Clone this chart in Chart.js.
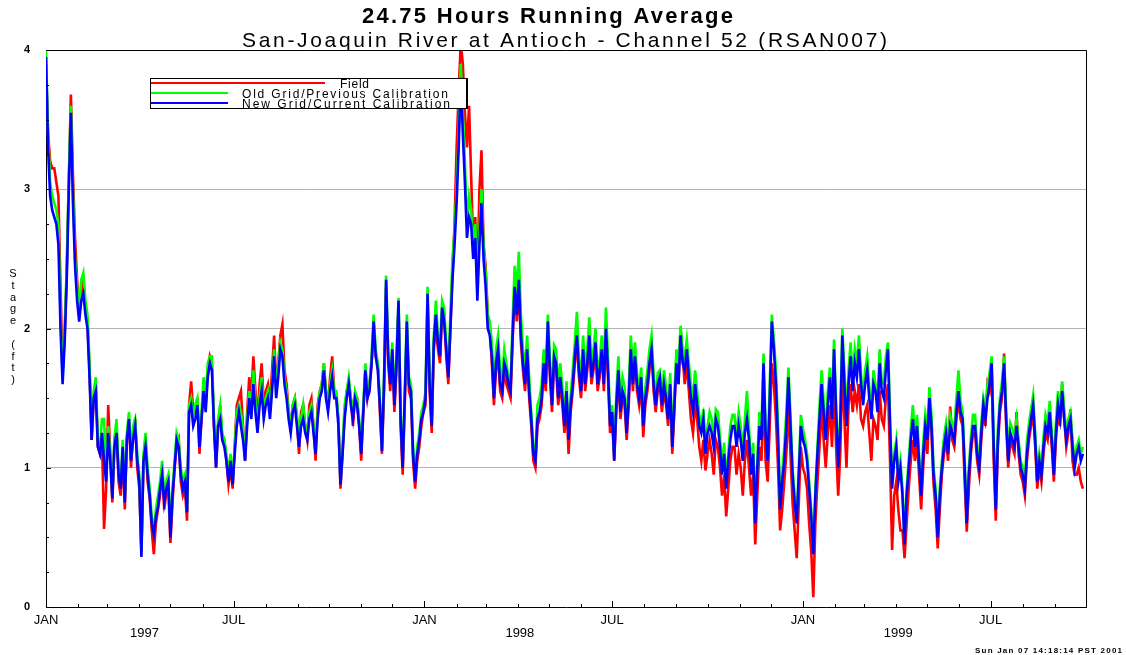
<!DOCTYPE html>
<html>
<head>
<meta charset="utf-8">
<title>24.75 Hours Running Average</title>
<script src="https://cdn.jsdelivr.net/npm/chart.js@4.4.1/dist/chart.umd.min.js"></script>
<style>
  body { margin: 0; background: #fff; }
  #grafico { display: block; }
</style>
</head>
<body>
<canvas id="grafico" width="1127" height="655"></canvas>
<script>
// valores, en dias desde el 1 de enero de 1997 (dia 0)
// ...Stage: un dato cada 4 dias (dia 0, 4, 8...), ...Mid: el dato intermedio (dia 2, 6, 10...)
const firstDay = 0
const dayStep = 4
const lastDay = 1003 // fin del eje, aprox. 1 oct 1999

const newGridStage = [
  3.95, 2.95, 2.8, 2.6, 1.6, 2.35, 3.55, 2.45, 2.05, 2.25,
  2.0, 1.2, 1.55, 1.1, 1.05, 1.25, 0.78, 1.25, 0.85, 0.75,
  1.35, 1.2, 1.05, 0.36, 1.15, 0.8, 0.52, 0.72, 0.95, 0.85,
  0.5, 1.0, 1.15, 0.85, 0.68, 1.45, 1.35, 1.15, 1.55, 1.65,
  1.7, 1.0, 1.35, 1.15, 0.9, 0.88, 1.3, 1.3, 1.05, 1.5,
  1.6, 1.25, 1.55, 1.45, 1.35, 1.8, 1.65, 1.8, 1.5, 1.25,
  1.45, 1.15, 1.35, 1.2, 1.4, 1.1, 1.5, 1.7, 1.4, 1.65,
  1.5, 0.88, 1.35, 1.6, 1.35, 1.45, 1.1, 1.7, 1.55, 2.05,
  1.7, 1.12, 2.35, 1.6, 1.45, 2.2, 1.0, 2.05, 1.55, 0.9,
  1.2, 1.4, 2.25, 1.3, 2.1, 1.8, 2.05, 1.65, 2.35, 2.9,
  3.8, 3.05, 2.8, 2.5, 2.2, 2.9, 2.3, 1.95, 1.5, 1.85,
  1.55, 1.7, 1.55, 2.3, 2.35, 1.75, 1.85, 1.35, 1.05, 1.4,
  1.75, 2.05, 1.45, 1.75, 1.65, 1.3, 1.2, 1.6, 1.95, 1.55,
  1.6, 1.95, 1.75, 1.6, 1.85, 2.0, 1.3, 1.05, 1.7, 1.55,
  1.25, 1.85, 1.8, 1.5, 1.3, 1.6, 1.85, 1.45, 1.65, 1.6,
  1.35, 1.15, 1.75, 1.95, 1.7, 1.65, 1.4, 1.45, 1.25, 1.1,
  1.3, 1.15, 1.3, 0.95, 0.85, 1.2, 1.3, 1.3, 1.05, 1.35,
  0.95, 0.6, 1.3, 1.75, 1.05, 2.05, 1.6, 0.7, 1.05, 1.65,
  0.95, 0.6, 1.3, 1.15, 0.85, 0.38, 1.1, 1.6, 1.2, 1.65,
  1.85, 1.0, 1.95, 1.3, 1.8, 1.75, 1.85, 1.45, 1.7, 1.35,
  1.55, 1.75, 1.5, 1.85, 0.85, 1.15, 1.0, 0.45, 1.0, 1.35,
  1.3, 0.8, 1.3, 1.5, 0.95, 0.5, 1.0, 1.25, 1.3, 1.2,
  1.55, 1.35, 0.6, 1.15, 1.3, 1.0, 1.45, 1.5, 1.75, 0.7,
  1.45, 1.75, 1.05, 1.2, 1.3, 1.0, 0.85, 1.25, 1.45, 0.9,
  0.95, 1.3, 1.4, 0.95, 1.45, 1.55, 1.2, 1.35, 1.0, 1.15,
  1.1
]
const newGridMid = [
  3.3, 2.85, 2.75, 2.0, 1.9, 3.0, 2.9, 2.2, 2.2, 2.1,
  1.65, 1.5, 1.15, 1.25, 0.9, 1.05, 1.15, 0.95, 1.15, 1.2,
  1.05, 1.3, 0.9, 1.05, 0.95, 0.6, 0.65, 0.85, 0.75, 0.9,
  0.8, 1.2, 0.95, 0.9, 1.4, 1.3, 1.45, 1.35, 1.4, 1.75,
  1.3, 1.3, 1.2, 1.05, 1.05, 1.1, 1.4, 1.2, 1.3, 1.35,
  1.4, 1.45, 1.35, 1.5, 1.55, 1.5, 1.85, 1.6, 1.35, 1.4,
  1.3, 1.3, 1.25, 1.35, 1.25, 1.35, 1.55, 1.5, 1.55, 1.5,
  1.3, 1.1, 1.5, 1.45, 1.5, 1.3, 1.4, 1.5, 1.75, 1.8,
  1.45, 1.6, 1.8, 1.85, 1.75, 1.35, 1.5, 1.6, 1.1, 1.1,
  1.35, 1.5, 1.6, 1.9, 1.9, 2.15, 1.85, 2.0, 2.6, 3.3,
  3.4, 2.65, 2.75, 2.65, 2.6, 2.5, 2.0, 1.8, 1.75, 1.6,
  1.75, 1.6, 1.95, 2.1, 1.95, 1.6, 1.55, 1.1, 1.35, 1.5,
  1.6, 1.7, 1.8, 1.5, 1.5, 1.55, 1.45, 1.8, 1.7, 1.85,
  1.75, 1.65, 1.9, 1.7, 1.6, 1.7, 1.4, 1.45, 1.4, 1.5,
  1.5, 1.6, 1.6, 1.65, 1.5, 1.75, 1.6, 1.6, 1.45, 1.5,
  1.6, 1.45, 1.6, 1.75, 1.85, 1.5, 1.6, 1.3, 1.35, 1.25,
  1.25, 1.35, 1.15, 1.1, 1.05, 1.3, 1.15, 1.2, 1.25, 1.2,
  1.1, 1.0, 1.2, 1.25, 1.5, 1.85, 1.2, 0.9, 1.3, 1.3,
  0.75, 0.95, 1.2, 1.05, 0.65, 0.8, 1.35, 1.4, 1.45, 1.35,
  1.4, 1.3, 1.6, 1.6, 1.55, 1.65, 1.6, 1.6, 1.5, 1.6,
  1.4, 1.55, 1.7, 1.3, 1.05, 0.9, 0.8, 0.8, 1.2, 1.15,
  1.05, 1.1, 1.2, 1.3, 0.8, 0.8, 1.15, 1.1, 1.25, 1.4,
  1.4, 1.0, 0.95, 1.3, 1.1, 1.25, 1.35, 1.6, 1.15, 1.2,
  1.55, 1.35, 1.25, 1.15, 1.15, 0.95, 1.1, 1.35, 1.2, 1.05,
  1.15, 1.25, 1.2, 1.25, 1.35, 1.35, 1.3, 1.15, 1.1, 1.05
]

const oldGridStage = [
  4.0, 3.05, 2.9, 2.75, 1.65, 2.45, 3.6, 2.5, 2.15, 2.4,
  2.1, 1.25, 1.65, 1.15, 1.35, 1.3, 0.82, 1.35, 0.9, 0.8,
  1.4, 1.3, 1.1, 0.4, 1.25, 0.85, 0.55, 0.8, 1.05, 0.9,
  0.55, 1.05, 1.2, 0.9, 0.7, 1.5, 1.45, 1.2, 1.65, 1.75,
  1.8, 1.05, 1.45, 1.2, 0.95, 0.9, 1.4, 1.4, 1.1, 1.55,
  1.7, 1.3, 1.65, 1.5, 1.4, 1.85, 1.75, 1.85, 1.55, 1.3,
  1.5, 1.2, 1.45, 1.25, 1.45, 1.15, 1.55, 1.75, 1.45, 1.7,
  1.55, 0.9, 1.45, 1.65, 1.4, 1.5, 1.15, 1.75, 1.6, 2.1,
  1.75, 1.15, 2.38, 1.65, 1.5, 2.22, 1.05, 2.1, 1.6, 0.95,
  1.25, 1.45, 2.3, 1.35, 2.2, 1.85, 2.15, 1.7, 2.5, 3.0,
  3.9, 3.2, 2.95, 2.6, 2.3, 3.0, 2.4, 2.05, 1.55, 1.95,
  1.65, 1.75, 1.6, 2.45, 2.55, 1.85, 1.95, 1.4, 1.1, 1.5,
  1.85, 2.1, 1.5, 1.85, 1.75, 1.35, 1.25, 1.7, 2.12, 1.65,
  1.7, 2.08, 1.85, 1.65, 1.95, 2.15, 1.35, 1.1, 1.8, 1.65,
  1.3, 1.95, 1.9, 1.55, 1.35, 1.7, 1.95, 1.5, 1.7, 1.7,
  1.4, 1.2, 1.85, 2.02, 1.8, 1.75, 1.5, 1.55, 1.3, 1.15,
  1.4, 1.2, 1.4, 1.0, 0.9, 1.3, 1.38, 1.4, 1.1, 1.55,
  1.0, 0.65, 1.4, 1.82, 1.1, 2.1, 1.7, 0.75, 1.15, 1.72,
  1.0, 0.65, 1.38, 1.2, 0.9, 0.42, 1.15, 1.7, 1.25, 1.72,
  1.92, 1.05, 2.0, 1.35, 1.9, 1.85, 1.95, 1.5, 1.8, 1.4,
  1.6, 1.85, 1.6, 1.9, 0.9, 1.2, 1.05, 0.5, 1.05, 1.45,
  1.38, 0.85, 1.38, 1.58, 1.0, 0.55, 1.05, 1.32, 1.38, 1.28,
  1.7, 1.4, 0.65, 1.22, 1.38, 1.05, 1.5, 1.6, 1.8, 0.75,
  1.5, 1.8, 1.1, 1.28, 1.35, 1.05, 0.9, 1.32, 1.52, 0.95,
  1.0, 1.38, 1.48, 1.0, 1.55, 1.62, 1.25, 1.4, 1.05, 1.2,
  1.15
]
const oldGridMid = [
  3.4, 2.95, 2.85, 2.1, 2.0, 3.1, 3.0, 2.3, 2.35, 2.2,
  1.75, 1.55, 1.2, 1.35, 0.95, 1.1, 1.2, 1.0, 1.2, 1.25,
  1.1, 1.35, 0.95, 1.1, 1.0, 0.65, 0.7, 0.9, 0.8, 0.95,
  0.85, 1.25, 1.0, 0.95, 1.45, 1.38, 1.5, 1.4, 1.48, 1.8,
  1.35, 1.35, 1.25, 1.1, 1.1, 1.15, 1.45, 1.28, 1.35, 1.42,
  1.48, 1.5, 1.4, 1.55, 1.6, 1.55, 1.9, 1.65, 1.4, 1.45,
  1.38, 1.35, 1.3, 1.4, 1.3, 1.4, 1.6, 1.55, 1.6, 1.55,
  1.35, 1.15, 1.55, 1.5, 1.55, 1.35, 1.45, 1.55, 1.8, 1.85,
  1.5, 1.65, 1.85, 1.9, 1.8, 1.4, 1.55, 1.65, 1.15, 1.15,
  1.4, 1.55, 1.65, 1.95, 1.95, 2.2, 1.9, 2.1, 2.7, 3.4,
  3.55, 2.75, 2.85, 2.75, 2.7, 2.6, 2.1, 1.9, 1.85, 1.7,
  1.85, 1.65, 2.05, 2.25, 2.1, 1.7, 1.65, 1.15, 1.45, 1.6,
  1.68, 1.78, 1.88, 1.58, 1.58, 1.62, 1.52, 1.9, 1.78, 1.95,
  1.85, 1.72, 2.0, 1.78, 1.7, 1.8, 1.45, 1.52, 1.48, 1.58,
  1.58, 1.7, 1.68, 1.72, 1.58, 1.85, 1.68, 1.68, 1.5, 1.58,
  1.68, 1.52, 1.7, 1.85, 1.92, 1.6, 1.7, 1.38, 1.42, 1.3,
  1.35, 1.42, 1.22, 1.18, 1.1, 1.38, 1.22, 1.3, 1.35, 1.3,
  1.18, 1.05, 1.28, 1.3, 1.6, 1.92, 1.3, 0.95, 1.4, 1.38,
  0.8, 1.0, 1.28, 1.1, 0.7, 0.85, 1.45, 1.48, 1.55, 1.42,
  1.45, 1.38, 1.7, 1.7, 1.65, 1.75, 1.68, 1.7, 1.58, 1.7,
  1.48, 1.62, 1.8, 1.38, 1.1, 0.95, 0.85, 0.85, 1.28, 1.22,
  1.1, 1.18, 1.28, 1.38, 0.85, 0.85, 1.22, 1.18, 1.32, 1.5,
  1.48, 1.05, 1.0, 1.38, 1.15, 1.32, 1.42, 1.68, 1.2, 1.28,
  1.62, 1.42, 1.32, 1.22, 1.2, 1.0, 1.18, 1.42, 1.25, 1.1,
  1.22, 1.32, 1.25, 1.32, 1.42, 1.42, 1.35, 1.2, 1.15, 1.1
]

const fieldStage = [
  3.9, 3.2, 3.15, 2.95, 1.7, 2.4, 3.68, 2.65, 2.1, 2.35,
  2.05, 1.2, 1.6, 1.1, 0.56, 1.45, 0.75, 1.3, 0.8, 0.7,
  1.35, 1.25, 1.0, 0.4, 1.2, 0.78, 0.38, 0.7, 1.0, 0.82,
  0.46, 1.0, 1.2, 0.8, 0.62, 1.62, 1.4, 1.1, 1.6, 1.7,
  1.75, 1.0, 1.45, 1.2, 0.88, 0.85, 1.45, 1.55, 1.05, 1.65,
  1.8, 1.35, 1.75, 1.55, 1.45, 1.95, 1.75, 2.03, 1.6, 1.3,
  1.5, 1.1, 1.45, 1.2, 1.5, 1.05, 1.55, 1.75, 1.45, 1.8,
  1.5, 0.85, 1.4, 1.62, 1.3, 1.5, 1.05, 1.7, 1.6, 2.0,
  1.75, 1.1, 2.3, 1.55, 1.4, 2.15, 0.95, 2.0, 1.5, 0.85,
  1.15, 1.4, 2.2, 1.25, 2.0, 1.75, 2.1, 1.6, 2.4, 3.3,
  4.05, 3.55, 3.6, 2.6, 2.35, 3.28, 2.45, 2.0, 1.45, 1.8,
  1.5, 1.6, 1.5, 2.3, 2.3, 1.7, 1.8, 1.3, 1.0, 1.35,
  1.7, 2.0, 1.4, 1.7, 1.6, 1.25, 1.1, 1.55, 1.9, 1.5,
  1.55, 1.9, 1.7, 1.55, 1.85, 1.95, 1.25, 1.05, 1.65, 1.5,
  1.2, 1.9, 1.8, 1.45, 1.22, 1.55, 1.88, 1.4, 1.6, 1.55,
  1.3, 1.1, 1.8, 2.0, 1.6, 1.55, 1.25, 1.35, 1.05, 0.98,
  1.2, 0.95, 1.15, 0.8, 0.65, 1.05, 1.15, 1.1, 0.8, 1.2,
  0.8, 0.45, 1.15, 1.55, 0.9, 1.75, 1.35, 0.55, 0.9, 1.45,
  0.75, 0.35, 1.15, 0.95, 0.6, 0.07, 0.9, 1.45, 1.0, 1.45,
  1.6, 0.8, 1.7, 1.0, 1.6, 1.55, 1.6, 1.3, 1.45, 1.05,
  1.3, 1.55, 1.3, 1.6, 0.41, 0.9, 0.55, 0.35, 0.85, 1.2,
  1.2, 0.7, 1.25, 1.45, 0.88, 0.42, 0.95, 1.2, 1.44, 1.15,
  1.5, 1.3, 0.54, 1.1, 1.25, 0.95, 1.4, 1.6, 1.7, 0.62,
  1.4, 1.82, 1.0, 1.15, 1.4, 0.95, 0.8, 1.2, 1.4, 0.85,
  0.9, 1.25, 1.35, 0.9, 1.4, 1.6, 1.15, 1.42, 0.95, 1.0,
  0.85
]
const fieldMid = [
  3.4, 3.15, 3.05, 2.3, 1.95, 3.05, 3.1, 2.35, 2.25, 2.15,
  1.7, 1.5, 1.15, 1.2, 0.85, 1.1, 1.2, 0.9, 1.1, 1.2,
  1.0, 1.35, 0.85, 1.05, 0.9, 0.55, 0.6, 0.8, 0.7, 0.85,
  0.75, 1.15, 0.9, 0.85, 1.45, 1.4, 1.5, 1.35, 1.45, 1.8,
  1.3, 1.3, 1.2, 1.05, 1.0, 1.15, 1.5, 1.3, 1.4, 1.5,
  1.55, 1.6, 1.45, 1.6, 1.7, 1.6, 1.95, 1.7, 1.4, 1.45,
  1.35, 1.4, 1.3, 1.45, 1.3, 1.45, 1.6, 1.55, 1.65, 1.55,
  1.35, 1.1, 1.55, 1.5, 1.5, 1.3, 1.4, 1.5, 1.75, 1.8,
  1.4, 1.55, 1.75, 1.8, 1.7, 1.3, 1.45, 1.55, 1.05, 1.05,
  1.3, 1.45, 1.55, 1.85, 1.85, 2.1, 1.8, 2.0, 2.75, 3.7,
  3.9, 3.3, 3.1, 2.8, 3.0, 2.6, 2.1, 1.75, 1.7, 1.55,
  1.7, 1.55, 1.9, 2.05, 1.9, 1.55, 1.5, 1.05, 1.3, 1.45,
  1.55, 1.65, 1.75, 1.45, 1.45, 1.45, 1.4, 1.75, 1.65, 1.8,
  1.7, 1.6, 1.85, 1.65, 1.55, 1.65, 1.35, 1.4, 1.35, 1.45,
  1.45, 1.55, 1.55, 1.6, 1.45, 1.7, 1.55, 1.55, 1.4, 1.45,
  1.55, 1.4, 1.6, 1.8, 1.75, 1.35, 1.45, 1.15, 1.2, 1.1,
  1.1, 1.2, 1.0, 0.95, 0.85, 1.15, 0.95, 1.0, 1.05, 1.0,
  0.95, 0.8, 1.05, 1.05, 1.3, 1.6, 1.0, 0.7, 1.1, 1.1,
  0.55, 0.75, 1.0, 0.85, 0.4, 0.6, 1.15, 1.2, 1.25, 1.15,
  1.15, 1.1, 1.35, 1.45, 1.4, 1.45, 1.35, 1.4, 1.25, 1.35,
  1.2, 1.35, 1.5, 1.05, 0.8, 0.7, 0.55, 0.6, 1.05, 1.05,
  0.95, 1.0, 1.1, 1.25, 0.7, 0.7, 1.1, 1.05, 1.2, 1.35,
  1.35, 0.9, 0.85, 1.25, 1.05, 1.2, 1.3, 1.55, 1.05, 1.15,
  1.5, 1.3, 1.2, 1.1, 1.1, 0.9, 1.05, 1.3, 1.15, 1.0,
  1.1, 1.2, 1.15, 1.2, 1.3, 1.35, 1.25, 1.05, 0.95, 0.9
]

// eje x: dias desde el 1 ene 1997
const monthDays = [0, 31, 59, 90, 120, 151, 181, 212, 243, 273, 304, 334,
  365, 396, 424, 455, 485, 516, 546, 577, 608, 638, 669, 699,
  730, 761, 789, 820, 850, 881, 911, 942, 973]
const majorDays = [0, 181, 365, 546, 730, 911]
const monthLabels = ["JAN", "JUL", "JAN", "JUL", "JAN", "JUL"]
const yearDays = [95, 457, 822]
const yearLabels = ["1997", "1998", "1999"]
const gridValues = [1, 2, 3]

const fontSans = "'Liberation Sans', Arial, sans-serif"
const fontNarrow = "'Liberation Sans Narrow', 'Liberation Sans', Arial, sans-serif"

// junta los datos cada 4 dias con los intermedios
function toPoints(vals, mids) {
  const pts = []
  vals.forEach((v, i) => {
    pts.push({ x: firstDay + i * dayStep, y: v })
    if (i < mids.length) pts.push({ x: firstDay + i * dayStep + dayStep / 2, y: mids[i] })
  })
  return pts
}

// texto estirado para ocupar el ancho del original
function fitText(ctx, text, x, y, width) {
  ctx.letterSpacing = "0px"
  const w = ctx.measureText(text).width
  const sp = (width - w) / Math.max(1, text.length - 1)
  ctx.letterSpacing = sp + "px"
  ctx.textAlign = "left"
  ctx.textBaseline = "alphabetic"
  ctx.fillText(text, x, y)
  ctx.letterSpacing = "0px"
}

const decoracion = {
  id: "decoracion",
  beforeDraw(chart) {
    const ctx = chart.ctx
    ctx.save()
    ctx.fillStyle = "#fff"
    ctx.fillRect(0, 0, chart.width, chart.height)
    ctx.restore()
  },
  afterDraw(chart) {
    const ctx = chart.ctx
    const area = chart.chartArea
    const xs = chart.scales.x
    const ys = chart.scales.y
    ctx.save()

    // marco del grafico
    ctx.strokeStyle = "#000"
    ctx.lineWidth = 1
    ctx.beginPath()
    ctx.moveTo(area.left, area.top + 0.5)
    ctx.lineTo(area.right + 0.5, area.top + 0.5)
    ctx.lineTo(area.right + 0.5, area.bottom)
    ctx.stroke()

    // marcas hacia adentro en x
    ctx.beginPath()
    monthDays.forEach(d => {
      const px = Math.round(xs.getPixelForValue(d)) + 0.5
      const len = majorDays.includes(d) ? 6 : 3
      ctx.moveTo(px, area.bottom)
      ctx.lineTo(px, area.bottom - len)
    })
    // marcas hacia adentro en y cada 0.25
    for (let v = 0.25; v < 4; v += 0.25) {
      const py = Math.round(ys.getPixelForValue(v)) + 0.5
      const len = Number.isInteger(v) ? 5 : 3
      ctx.moveTo(area.left, py)
      ctx.lineTo(area.left + len, py)
    }
    ctx.stroke()

    // titulos
    ctx.fillStyle = "#000"
    ctx.font = "bold 22px " + fontSans
    fitText(ctx, "24.75 Hours Running Average", 362, 23, 371)
    ctx.font = "21px " + fontSans
    fitText(ctx, "San-Joaquin River at Antioch - Channel 52 (RSAN007)", 242, 47, 645)

    // leyenda
    ctx.fillStyle = "#fff"
    ctx.fillRect(151, 79, 315, 29)
    ctx.fillStyle = "#000"
    ctx.fillRect(150, 78, 318, 1)
    ctx.fillRect(150, 108, 318, 1)
    ctx.fillRect(150, 78, 1, 31)
    ctx.fillRect(466, 78, 2, 31)
    const items = [
      { color: "#ff0000", len: 174, text: "Field", x: 340, w: 29, y: 87.5, ly: 82 },
      { color: "#00ff00", len: 77, text: "Old Grid/Previous Calibration", x: 242, w: 206, y: 97.5, ly: 92 },
      { color: "#0000ff", len: 77, text: "New Grid/Current Calibration", x: 242, w: 208, y: 107.5, ly: 102 }
    ]
    ctx.font = "12px " + fontSans
    items.forEach(it => {
      ctx.fillStyle = it.color
      ctx.fillRect(151, it.ly, it.len, 2)
      ctx.fillStyle = "#000"
      fitText(ctx, it.text, it.x, it.y, it.w)
    })

    // titulo eje y, letras apiladas
    ctx.font = "11px " + fontSans
    ctx.textAlign = "center"
    ctx.textBaseline = "middle"
    const etiqueta = "Stage (ft)"
    for (let i = 0; i < etiqueta.length; i++) {
      ctx.fillText(etiqueta[i], 13, 274 + i * 11.8)
    }

    // fecha de impresion
    ctx.font = "bold 8px " + fontSans
    fitText(ctx, "Sun Jan 07 14:18:14 PST 2001", 975, 653, 147)

    ctx.restore()
  }
}

const tickDays = majorDays.concat(yearDays).sort((a, b) => a - b)

new Chart(document.querySelector("#grafico"), {
  type: "line",
  data: {
    datasets: [
      { label: "New Grid/Current Calibration", data: toPoints(newGridStage, newGridMid), borderColor: "#0000ff" },
      { label: "Old Grid/Previous Calibration", data: toPoints(oldGridStage, oldGridMid), borderColor: "#00ff00" },
      { label: "Field", data: toPoints(fieldStage, fieldMid), borderColor: "#ff0000" }
    ]
  },
  options: {
    responsive: false,
    animation: false,
    events: [],
    layout: { padding: { left: 0, right: 41, top: 50, bottom: 0 } },
    elements: {
      line: { borderWidth: 2.6, tension: 0, fill: false, borderJoinStyle: "miter" },
      point: { radius: 0 }
    },
    plugins: {
      legend: { display: false },
      tooltip: { enabled: false }
    },
    scales: {
      x: {
        type: "linear",
        min: 0,
        max: lastDay,
        afterFit: (scale) => { scale.height = 48 },
        afterBuildTicks: (scale) => { scale.ticks = tickDays.map(v => ({ value: v })) },
        grid: { display: false, drawTicks: false },
        border: { color: "#000", width: 1 },
        ticks: {
          autoSkip: false,
          maxRotation: 0,
          padding: 7,
          color: "#000",
          font: { family: fontNarrow, size: 13, lineHeight: 1.0 },
          callback: (value) => {
            const m = majorDays.indexOf(value)
            if (m >= 0) return monthLabels[m]
            const y = yearDays.indexOf(value)
            if (y >= 0) return ["", yearLabels[y]]
            return ""
          }
        }
      },
      y: {
        min: 0,
        max: 4,
        afterFit: (scale) => { scale.width = 46 },
        grid: {
          drawTicks: false,
          lineWidth: 1,
          color: (c) => gridValues.includes(c.tick && c.tick.value) ? "#b4b4b4" : "rgba(0,0,0,0)"
        },
        border: { color: "#000", width: 1 },
        ticks: {
          stepSize: 1,
          padding: 16,
          color: "#000",
          font: { family: fontSans, size: 11, weight: "bold" }
        }
      }
    }
  },
  plugins: [decoracion]
})
</script>
</body>
</html>
